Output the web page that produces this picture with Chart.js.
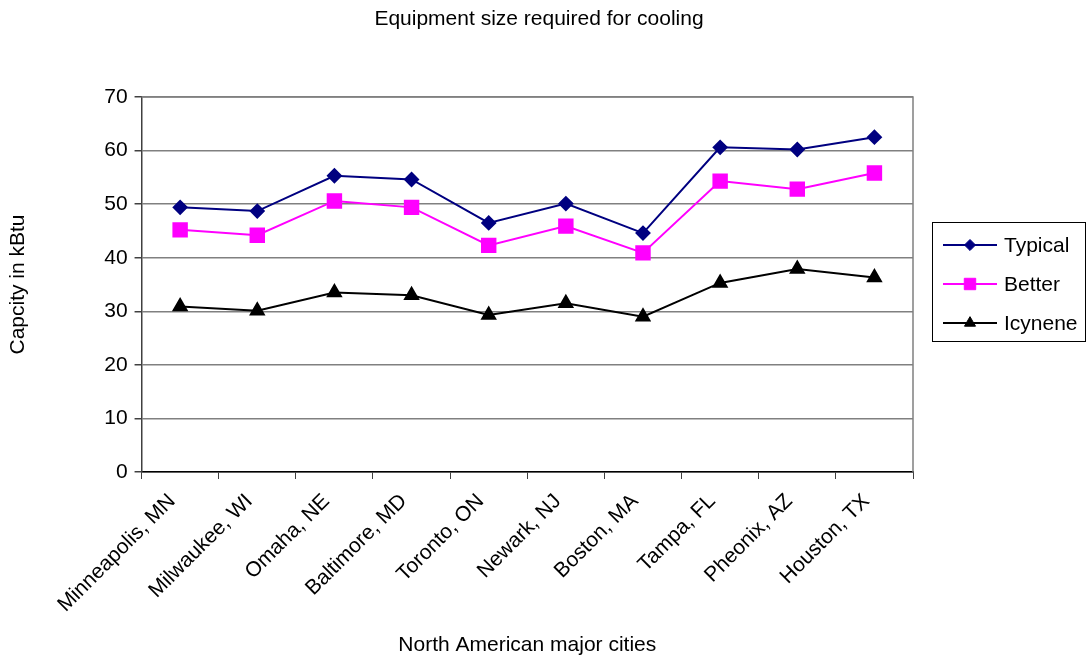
<!DOCTYPE html>
<html>
<head>
<meta charset="utf-8">
<script src="https://cdn.jsdelivr.net/npm/chart.js@4"></script>
<style>
  html, body { margin: 0; padding: 0; background: #fff; }
  canvas { display: block; }
</style>
</head>
<body>
<canvas id="coolingChart" width="1088" height="659"></canvas>
<script>
const cities = ["Minneapolis, MN", "Milwaukee, WI", "Omaha, NE", "Baltimore, MD", "Toronto, ON",
  "Newark, NJ", "Boston, MA", "Tampa, FL", "Pheonix, AZ", "Houston, TX"];
const typical = [49.4, 48.7, 55.3, 54.6, 46.5, 50.1, 44.6, 60.6, 60.2, 62.5];
const better = [45.2, 44.2, 50.6, 49.4, 42.3, 45.9, 40.9, 54.3, 52.8, 55.8];
const icynene = [30.9, 30.1, 33.5, 33.0, 29.3, 31.5, 29.0, 35.3, 37.9, 36.3];

const FONT = "'Liberation Sans', Arial, sans-serif";
const SIZE = 21;

/* title, legend box with line + marker, frame on top/right */
const extras = {
  id: "extras",
  afterDraw(chart) {
    const c = chart.ctx;
    const a = chart.chartArea;
    c.save();
    c.strokeStyle = "#808080";
    c.lineWidth = 1.5;
    c.beginPath();
    c.moveTo(a.left, a.top);
    c.lineTo(a.right, a.top);
    c.lineTo(a.right, a.bottom);
    c.stroke();

    c.font = SIZE + "px " + FONT;
    c.fillStyle = "#000";
    c.textAlign = "center";
    c.textBaseline = "middle";
    c.fillText("Equipment size required for cooling", 539, 19);

    const bx = 932, by = 222, bw = 153, bh = 119;
    c.strokeStyle = "#000";
    c.lineWidth = 1;
    c.strokeRect(bx + 0.5, by + 0.5, bw, bh);
    chart.data.datasets.forEach((ds, i) => {
      const y = by + 23 + i * 39;
      c.strokeStyle = ds.borderColor;
      c.lineWidth = 2;
      c.beginPath();
      c.moveTo(bx + 11, y);
      c.lineTo(bx + 65, y);
      c.stroke();
      c.fillStyle = ds.pointBackgroundColor;
      c.strokeStyle = ds.pointBackgroundColor;
      c.lineWidth = 1;
      Chart.helpers.drawPoint(c, { pointStyle: ds.pointStyle, radius: ds.pointRadius * 0.85, rotation: 0, borderWidth: 1 }, bx + 38, y);
      c.fillStyle = "#000";
      c.textAlign = "left";
      c.fillText(ds.label, bx + 72, y + 1);
    });
    c.restore();
  }
};

new Chart(document.getElementById("coolingChart"), {
  type: "line",
  data: {
    labels: cities,
    datasets: [
      {
        label: "Typical",
        data: typical,
        borderColor: "#000080",
        backgroundColor: "#000080",
        pointBackgroundColor: "#000080",
        pointBorderColor: "#000080",
        pointStyle: "rectRot",
        pointRadius: 6.5,
        borderWidth: 2
      },
      {
        label: "Better",
        data: better,
        borderColor: "#FF00FF",
        backgroundColor: "#FF00FF",
        pointBackgroundColor: "#FF00FF",
        pointBorderColor: "#FF00FF",
        pointStyle: "rect",
        pointRadius: 9.5,
        borderWidth: 2
      },
      {
        label: "Icynene",
        data: icynene,
        borderColor: "#000000",
        backgroundColor: "#000000",
        pointBackgroundColor: "#000000",
        pointBorderColor: "#000000",
        pointStyle: "triangle",
        pointRadius: 7.5,
        borderWidth: 2
      }
    ]
  },
  options: {
    responsive: false,
    animation: false,
    layout: { padding: { left: 6, right: 175, top: 97, bottom: 1 } },
    plugins: {
      legend: { display: false },
      tooltip: { enabled: false },
      title: { display: false }
    },
    scales: {
      x: {
        offset: true,
        afterFit(scale) { scale.height = 186; },
        grid: { display: true, offset: true, drawOnChartArea: false, color: "#404040", tickLength: 7 },
        border: { color: "#000", width: 1.5 },
        ticks: {
          color: "#000",
          font: { family: FONT, size: SIZE },
          maxRotation: 45,
          minRotation: 45,
          padding: 10,
          labelOffset: -8
        },
        title: {
          display: true,
          text: "North American major cities",
          color: "#000",
          font: { family: FONT, size: SIZE },
          padding: { top: 6, bottom: 0 }
        }
      },
      y: {
        min: 0,
        max: 70,
        ticks: {
          stepSize: 10,
          color: "#000",
          font: { family: FONT, size: SIZE },
          padding: 7
        },
        grid: { color: "#808080", lineWidth: 1.5, tickLength: 7, tickColor: "#404040" },
        border: { color: "#404040", width: 1.5 },
        title: {
          display: true,
          text: "Capcity in kBtu",
          color: "#000",
          font: { family: FONT, size: SIZE },
          padding: { top: 0, bottom: 66 }
        }
      }
    }
  },
  plugins: [extras]
});
</script>
</body>
</html>
